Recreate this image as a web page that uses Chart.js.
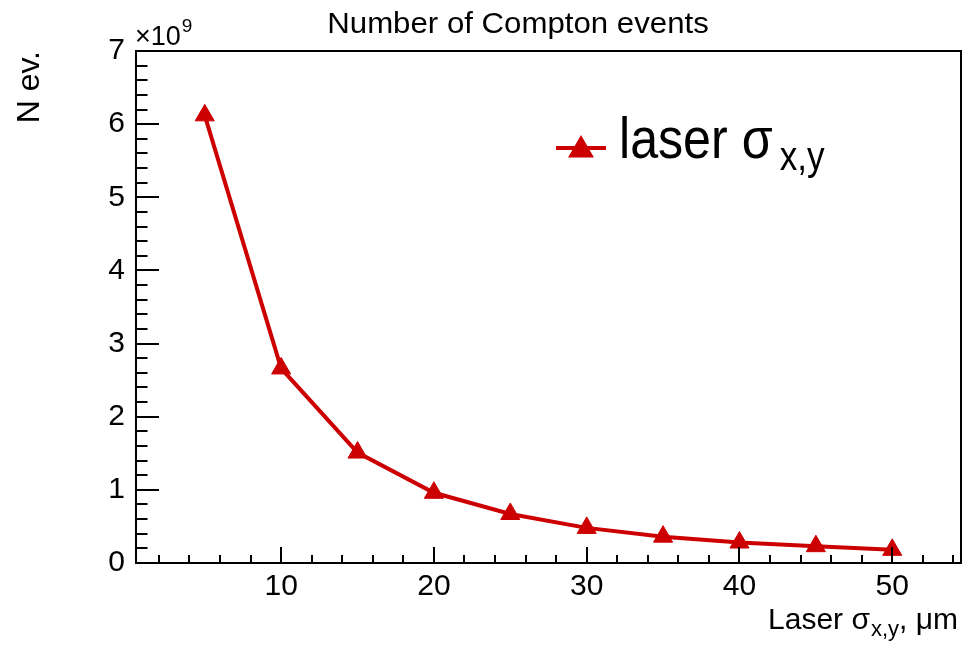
<!doctype html>
<html lang="en">
<head>
<meta charset="utf-8">
<title>Number of Compton events</title>
<style>
  * { margin: 0; padding: 0; }
  body { background: #fff; }
  .chartbox { width: 965px; height: 646px; }
</style>
</head>
<body>
<div class="chartbox"><canvas id="myChart" width="965" height="646"></canvas></div>
<script src="https://cdn.jsdelivr.net/npm/chart.js@4/dist/chart.umd.min.js"></script>
<script>
// laser spot size (um) and number of Compton events
const sigma = [5, 10, 15, 20, 25, 30, 35, 40, 45, 50];
const nEvents = [6.12e9, 2.66e9, 1.51e9, 0.96e9, 0.67e9, 0.48e9, 0.36e9, 0.28e9, 0.23e9, 0.18e9];

const xTicks = [10, 20, 30, 40, 50];
const yTicks = [0, 1e9, 2e9, 3e9, 4e9, 5e9, 6e9, 7e9];
const yTickLabels = ['0', '1', '2', '3', '4', '5', '6', '7'];

const red = '#cc0000';
const font = '"Liberation Sans", Arial, Helvetica, sans-serif';
Chart.defaults.font.family = font;
Chart.defaults.color = '#000';

// text with subscripts / superscripts
function drawParts(ctx, x, y, parts, align, sx) {
  sx = sx || 1;
  let w = 0;
  parts.forEach(p => { ctx.font = p.size + 'px ' + font; w += ctx.measureText(p.t).width + (p.dx || 0); });
  ctx.save();
  ctx.translate(x, y);
  ctx.scale(sx, 1);
  let cx = align === 'right' ? -w : align === 'center' ? -w / 2 : 0;
  ctx.fillStyle = '#000';
  ctx.textBaseline = 'alphabetic';
  ctx.textAlign = 'left';
  parts.forEach(p => {
    ctx.font = p.size + 'px ' + font;
    cx += p.dx || 0;
    ctx.fillText(p.t, cx, p.dy || 0);
    cx += ctx.measureText(p.t).width;
  });
  ctx.restore();
}

const rootFrame = {
  id: 'rootFrame',
  afterDraw(chart) {
    const ctx = chart.ctx, a = chart.chartArea;
    const xs = chart.scales.x, ys = chart.scales.y;
    ctx.save();
    ctx.strokeStyle = '#000';
    ctx.lineWidth = 2;
    ctx.strokeRect(a.left, a.top, a.right - a.left, a.bottom - a.top);

    // inward ticks, ROOT style
    ctx.beginPath();
    for (let i = 1; i * 2 <= xs.max; i++) {
      const v = i * 2;
      const px = Math.round(xs.getPixelForValue(v));
      const len = v % 10 === 0 ? 16 : 8;
      ctx.moveTo(px, a.bottom);
      ctx.lineTo(px, a.bottom - len);
    }
    for (let i = 1; i < 35; i++) {
      const py = Math.round(ys.getPixelForValue(i * 0.2e9));
      const len = i % 5 === 0 ? 23 : 11.5;
      ctx.moveTo(a.left, py);
      ctx.lineTo(a.left + len, py);
    }
    ctx.stroke();

    // title
    drawParts(ctx, 518, 33, [{t: 'Number of Compton events', size: 30}], 'center', 1.04);

    // exponent of y axis
    drawParts(ctx, a.left - 1, 45, [{t: '\u00d710', size: 27}, {t: '9', size: 19, dy: -13, dx: 1}]);

    // x axis title
    drawParts(ctx, 958, 629, [{t: 'Laser \u03c3', size: 30}, {t: 'x,y', size: 22, dy: 7, dx: 1}, {t: ', \u03bcm', size: 30}], 'right');

    // legend
    ctx.strokeStyle = red;
    ctx.lineWidth = 4;
    ctx.beginPath();
    ctx.moveTo(556, 148);
    ctx.lineTo(606, 148);
    ctx.stroke();
    ctx.fillStyle = red;
    Chart.helpers.drawPoint(ctx, {pointStyle: 'triangle', radius: 11, borderWidth: 1, rotation: 0}, 581, 150);
    drawParts(ctx, 619, 158, [{t: 'laser \u03c3', size: 57}, {t: 'x,y', size: 40, dy: 12, dx: 8}], 'left', 0.88);
    ctx.restore();
  }
};

const ctx = document.getElementById('myChart').getContext('2d');
const myChart = new Chart(ctx, {
  type: 'line',
  data: {
    datasets: [{
      label: 'laser \u03c3x,y',
      data: sigma.map((s, i) => ({x: s, y: nEvents[i]})),
      borderColor: red,
      backgroundColor: red,
      borderWidth: 4,
      pointStyle: 'triangle',
      pointRadius: 11,
      pointBorderWidth: 1,
      tension: 0
    }]
  },
  options: {
    responsive: false,
    animation: false,
    layout: { autoPadding: false, padding: { top: 51, right: 4, left: 0, bottom: 0 } },
    plugins: { legend: { display: false }, tooltip: { enabled: false } },
    scales: {
      x: {
        type: 'linear',
        min: 0.5,
        max: 54.5,
        grid: { display: false, drawTicks: false },
        border: { display: false },
        ticks: { font: { size: 30 }, padding: 6, maxRotation: 0, autoSkip: false },
        afterBuildTicks: s => { s.ticks = xTicks.map(v => ({value: v})); },
        afterFit: s => { s.height = 83; s.paddingLeft = 0; s.paddingRight = 0; }
      },
      y: {
        min: 0,
        max: 7e9,
        grid: { display: false, drawTicks: false },
        border: { display: false },
        title: { display: true, text: 'N ev.', align: 'end', font: { size: 32 }, padding: { top: 11 } },
        ticks: { font: { size: 30 }, padding: 11, autoSkip: false, callback: (v, i) => yTickLabels[i] },
        afterBuildTicks: s => { s.ticks = yTicks.map(v => ({value: v})); },
        afterFit: s => { s.width = 136; s.paddingTop = 0; s.paddingBottom = 0; }
      }
    }
  },
  plugins: [rootFrame]
});
</script>
</body>
</html>
